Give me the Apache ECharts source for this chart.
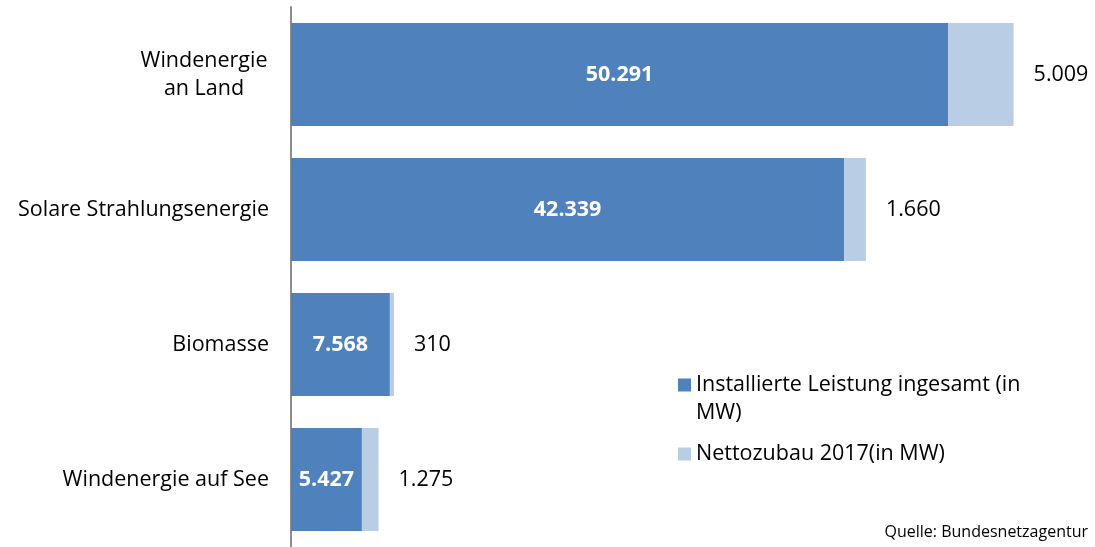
<!DOCTYPE html>
<html>
<head>
<meta charset="utf-8">
<script src="https://cdn.jsdelivr.net/npm/echarts@6/dist/echarts.min.js"></script>
<style>
  html, body { margin: 0; padding: 0; background: #fff; }
  #chart { width: 1095px; height: 547px; }
</style>
</head>
<body>
<div id="chart"></div>
<script>
var categories = ['Windenergie an Land', 'Solare Strahlungsenergie', 'Biomasse', 'Windenergie auf See'];
var installiert = [50291, 42339, 7568, 5427];
var zubau = [5009, 1660, 310, 1275];
var seriesNames = ['Installierte Leistung ingesamt (in MW)', 'Nettozubau 2017(in MW)'];

var FONT = '"Open Sans", sans-serif';
var FS = 21.5;

function fmt(v) {
    return String(v).replace(/\B(?=(\d{3})+(?!\d))/g, '.');
}

var myChart = echarts.init(document.getElementById('chart'));

var option = {
    animation: false,
    grid: { left: 291, right: 20, top: 7, bottom: -2 },
    legend: [
        {
            data: [seriesNames[0]],
            left: 673, top: 338,
            itemWidth: 13, itemHeight: 13,
            icon: 'rect',
            // leading blank line keeps the icon level with the first text line
            formatter: function () { return ' \nInstallierte Leistung ingesamt (in\nMW)'; },
            textStyle: { fontFamily: FONT, fontSize: FS, color: '#000', lineHeight: 28 }
        },
        {
            data: [seriesNames[1]],
            left: 673, top: 435,
            itemWidth: 13, itemHeight: 13,
            icon: 'rect',
            textStyle: { fontFamily: FONT, fontSize: FS, color: '#000', lineHeight: 28 }
        }
    ],
    xAxis: {
        type: 'value',
        min: 0,
        max: 60000,
        show: false
    },
    yAxis: {
        type: 'category',
        inverse: true,
        data: categories,
        axisLine: { lineStyle: { color: '#8c8c8c', width: 2 } },
        axisTick: { show: false },
        axisLabel: {
            margin: 22,
            fontFamily: FONT,
            fontSize: FS,
            color: '#000',
            formatter: function (v) {
                if (v === 'Windenergie an Land') return '{c|Windenergie}\n{c|an Land}';
                return v;
            },
            rich: {
                c: { width: 130, align: 'center', fontFamily: FONT, fontSize: FS, lineHeight: 28, color: '#000' }
            }
        }
    },
    series: [
        {
            name: seriesNames[0],
            type: 'bar',
            stack: 'total',
            barWidth: 103,
            data: installiert,
            itemStyle: { color: '#4F81BD' },
            label: {
                show: true,
                position: 'inside',
                color: '#fff',
                fontWeight: 'bold',
                fontFamily: FONT,
                fontSize: FS,
                formatter: function (p) { return fmt(p.value); }
            }
        },
        {
            name: seriesNames[1],
            type: 'bar',
            stack: 'total',
            barWidth: 103,
            data: zubau,
            itemStyle: { color: '#B9CDE5' },
            label: {
                show: true,
                position: 'right',
                distance: 20,
                color: '#000',
                fontFamily: FONT,
                fontSize: FS,
                formatter: function (p) { return fmt(p.value); }
            }
        }
    ],
    graphic: [
        {
            type: 'text',
            right: 7,
            top: 524,
            style: { text: 'Quelle: Bundesnetzagentur', fontFamily: FONT, fontSize: 16, fill: '#000' }
        }
    ]
};

myChart.setOption(option);
</script>
</body>
</html>
